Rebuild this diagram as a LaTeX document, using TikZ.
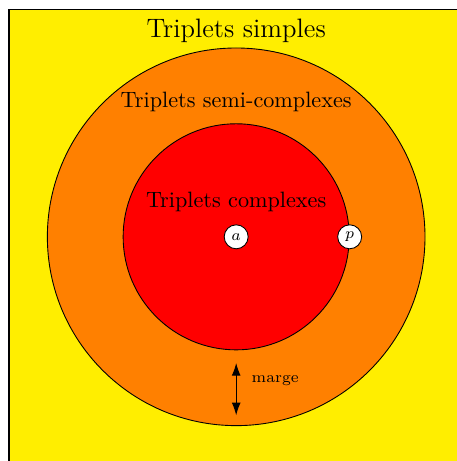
\documentclass[tikz,border=0pt]{standalone}
\usetikzlibrary{arrows.meta, positioning}
\definecolor{zoneyellow}{HTML}{FFEE00}
\definecolor{zoneorange}{HTML}{FF8000}
\definecolor{zonered}{HTML}{FF0000}

\begin{document}
\begin{tikzpicture}[>={Latex[length=2mm, width=1.4mm]},
      zone/.style={circle, draw=black, line width=0.4pt, inner sep=0pt},
      point/.style={circle, draw=black, line width=0.4pt, fill=white,
                    minimum size=0.38cm, inner sep=0pt, font=\scriptsize},
      title/.style={font=\normalsize, text=black}]
    \useasboundingbox (-3.74,-3.55) rectangle (3.49,3.75);
    \draw[fill=zoneyellow, line width=0.8pt] (-3.6,-3.7) rectangle (3.6,3.6);
    \node[zone, fill=zoneorange, minimum size=5.98cm] (outer) at (0,0) {};
    \node[zone, fill=zonered, minimum size=3.58cm] (inner) at (0,0) {};
    \node[title, font=\large] (simple) at (0,3.26) {Triplets simples};
    \node[title] (semi) at (0,2.13) {Triplets semi-complexes};
    \node[title] (complex) at (0,0.56) {Triplets complexes};
    \node[point] (a) at (0,0) {$a$};
    \node[point] (p) at (inner.east) {$p$};
    \coordinate[below=0.2cm of inner.south] (gaptop);
    \coordinate[above=0.17cm of outer.south] (gapbot);
    \draw[<->, line width=0.5pt] (gaptop) --
      node[pos=0.33, right=0.12cm, font=\scriptsize] {marge} (gapbot);
  \end{tikzpicture}
\end{document}
